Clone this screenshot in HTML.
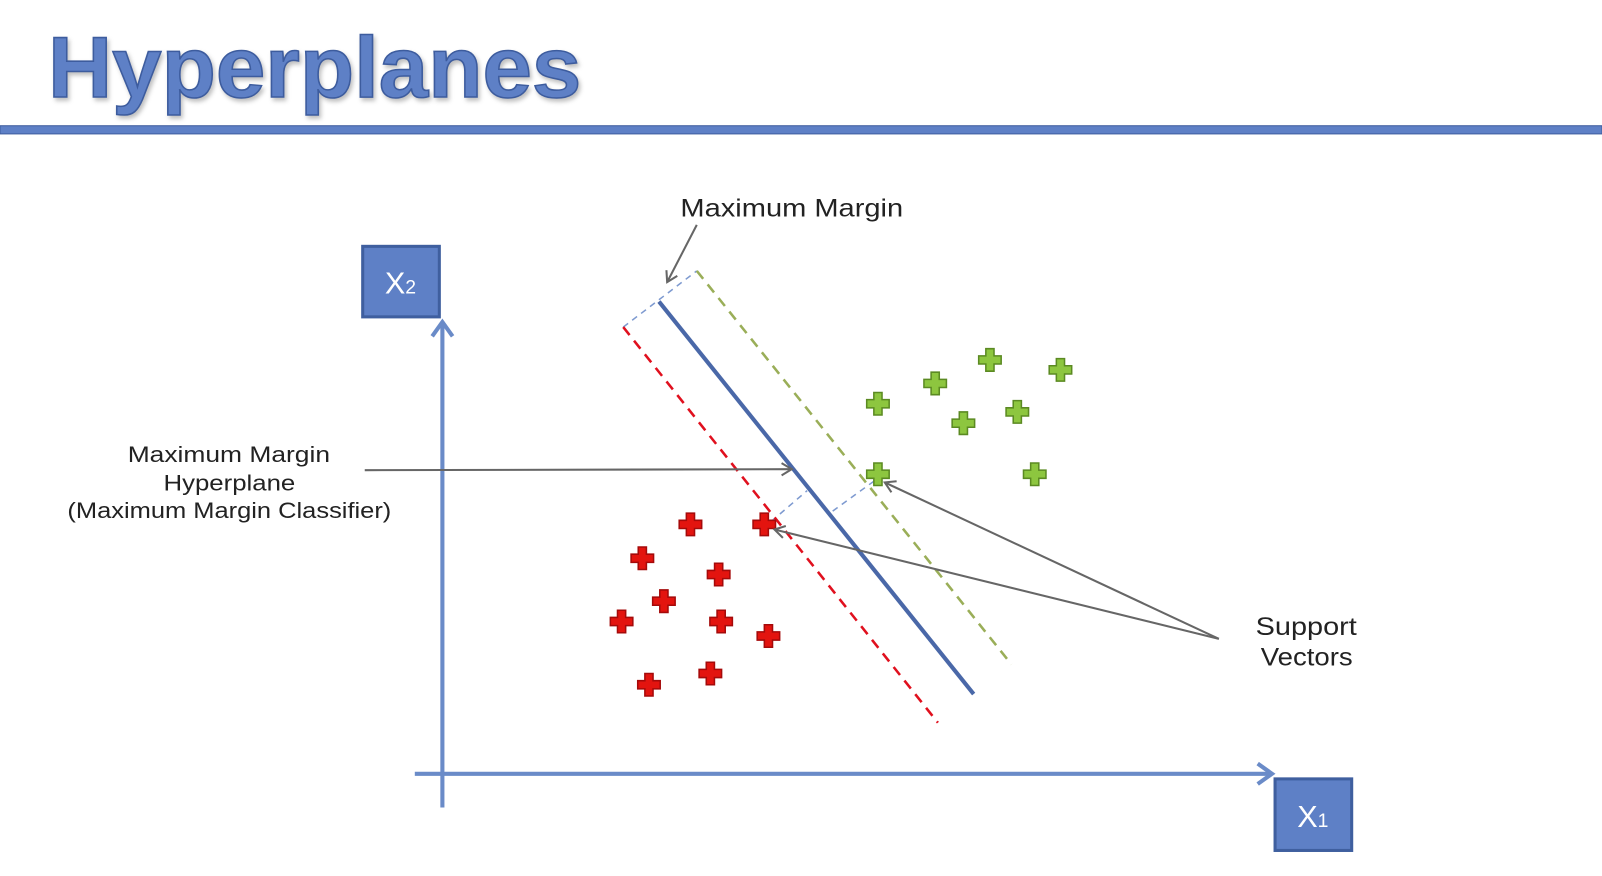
<!DOCTYPE html>
<html><head><meta charset="utf-8"><style>
html,body{margin:0;padding:0;background:#fff;}
svg{display:block;}
text{font-family:"Liberation Sans",sans-serif;}
</style></head><body>
<svg id="chart" width="1602" height="876" viewBox="0 0 1568 857" preserveAspectRatio="none" xmlns="http://www.w3.org/2000/svg">
<defs>
<marker id="arr" markerWidth="14" markerHeight="14" refX="11" refY="7" orient="auto" markerUnits="userSpaceOnUse"><path d="M1,1 L11,7 L1,13" fill="none" stroke="#666" stroke-width="2"/></marker>
<marker id="axarr" markerWidth="30" markerHeight="30" refX="20" refY="15" orient="auto" markerUnits="userSpaceOnUse"><path d="M6,5 L20,15 L6,25" fill="none" stroke="#6a8bc8" stroke-width="4"/></marker>
</defs>
<text x="47" y="95" font-size="84" font-weight="bold" fill="#5e80c6" stroke="#3d5c9e" stroke-width="1.5" textLength="522" lengthAdjust="spacingAndGlyphs" style="filter:drop-shadow(2px 3px 2px rgba(0,0,0,0.25))">Hyperplanes</text>
<rect x="0" y="123" width="1568" height="8" fill="#5e80c6" stroke="#3d5c9e" stroke-width="1"/>

<line x1="433" y1="790" x2="433" y2="315" stroke="#6a8bc8" stroke-width="4" marker-end="url(#axarr)"/>
<line x1="406" y1="757" x2="1245" y2="757" stroke="#6a8bc8" stroke-width="4" marker-end="url(#axarr)"/>
<rect x="355" y="241" width="75" height="69" fill="#5e80c6" stroke="#3f5f9f" stroke-width="3"/>
<text x="392" y="287" font-size="30" fill="#fff" text-anchor="middle">X<tspan font-size="19">2</tspan></text>
<rect x="1248" y="762" width="75" height="70" fill="#5e80c6" stroke="#3f5f9f" stroke-width="3"/>
<text x="1285" y="809" font-size="30" fill="#fff" text-anchor="middle">X<tspan font-size="19">1</tspan></text>

<line x1="610" y1="320" x2="682" y2="265" stroke="#7e9ad0" stroke-width="1.5" stroke-dasharray="6,5"/>
<line x1="755" y1="510" x2="790" y2="480" stroke="#7e9ad0" stroke-width="1.5" stroke-dasharray="6,5"/>
<line x1="815" y1="500" x2="855" y2="471" stroke="#7e9ad0" stroke-width="1.5" stroke-dasharray="6,5"/>
<line x1="610" y1="320" x2="918" y2="707" stroke="#e0101e" stroke-width="2.5" stroke-dasharray="10,7"/>
<line x1="682" y1="265" x2="990" y2="650" stroke="#9aae58" stroke-width="2.5" stroke-dasharray="10,7"/>
<line x1="645" y1="295" x2="953" y2="679" stroke="#4a68a8" stroke-width="4"/>

<g id="points"></g>

<line x1="682" y1="220" x2="653" y2="276" stroke="#666" stroke-width="2" marker-end="url(#arr)"/>
<line x1="357" y1="460" x2="775" y2="459" stroke="#666" stroke-width="2" marker-end="url(#arr)"/>
<line x1="1193" y1="625" x2="866" y2="472" stroke="#666" stroke-width="2" marker-end="url(#arr)"/>
<line x1="1193" y1="625" x2="758" y2="518" stroke="#666" stroke-width="2" marker-end="url(#arr)"/>

<text x="666" y="212" font-size="24" fill="#222" textLength="218" lengthAdjust="spacingAndGlyphs">Maximum Margin</text>
<text x="125" y="452" font-size="22" fill="#222" textLength="198" lengthAdjust="spacingAndGlyphs">Maximum Margin</text>
<text x="160" y="480" font-size="22" fill="#222" textLength="129" lengthAdjust="spacingAndGlyphs">Hyperplane</text>
<text x="66" y="507" font-size="22" fill="#222" textLength="317" lengthAdjust="spacingAndGlyphs">(Maximum Margin Classifier)</text>
<text x="1229" y="621" font-size="24" fill="#222" textLength="99" lengthAdjust="spacingAndGlyphs">Support</text>
<text x="1234" y="651" font-size="24" fill="#222" textLength="90" lengthAdjust="spacingAndGlyphs">Vectors</text>
</svg>
<script>
const greenX = [6.60, 7.45, 5.94, 5.25, 6.93, 6.28, 5.25, 7.14];
const greenY = [9.16, 8.94, 8.64, 8.19, 8.01, 7.76, 6.63, 6.63];
const redX = [2.99, 3.88, 2.41, 3.33, 2.67, 2.16, 3.36, 3.93, 3.23, 2.49];
const redY = [5.52, 5.52, 4.77, 4.41, 3.82, 3.37, 3.37, 3.05, 2.22, 1.97];
function xScale(v){ return 433 + v * 81.2; }
function yScale(v){ return 757 - v * 44.2; }
const g = document.getElementById('points');
const NS = 'http://www.w3.org/2000/svg';
function plus(cx, cy, fill, stroke, name){
  const p = document.createElementNS(NS, 'path');
  const a = 4, b = 11;
  p.setAttribute('d', `M${cx-a},${cy-b} H${cx+a} V${cy-a} H${cx+b} V${cy+a} H${cx+a} V${cy+b} H${cx-a} V${cy+a} H${cx-b} V${cy-a} H${cx-a} Z`);
  p.setAttribute('fill', fill);
  p.setAttribute('stroke', stroke);
  p.setAttribute('stroke-width', '1.5');
  
  
  g.appendChild(p);
}
greenX.forEach((v, i) => plus(xScale(v), yScale(greenY[i]), '#8dc63f', '#5b8a22', 'green-point'));
redX.forEach((v, i) => plus(xScale(v), yScale(redY[i]), '#e3140f', '#a50a0a', 'red-point'));
</script>
</body></html>
